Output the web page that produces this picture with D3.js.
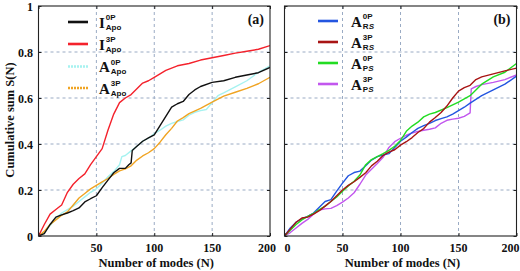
<!DOCTYPE html>
<html><head><meta charset="utf-8">
<script src="https://cdn.jsdelivr.net/npm/d3@7"></script>
<style>body{margin:0;background:#fff}svg{display:block}</style>
</head><body><svg id="c" width="520" height="271"></svg>
<script>
// ---------- data ----------
const xTicks = [0, 50, 100, 150, 200];
const xTickLabelsA = ["", "50", "100", "150", "200"];
const xTickLabelsB = ["0", "50", "100", "150", "200"];
const yTicks = [0, 0.2, 0.4, 0.6, 0.8, 1];
const yTickLabels = ["0", "0.2", "0.4", "0.6", "0.8", "1"];

// panel (a) series: [N, S(N)]
const I0P_Apo = [[0,0],[5,0.01],[10,0.05],[15,0.082],[20,0.092],[25,0.1],[30,0.11],[35,0.122],[40,0.148],[45,0.162],[50,0.175],[55,0.21],[60,0.243],[65,0.275],[70,0.294],[75,0.294],[78,0.31],[80,0.318],[81,0.372],[85,0.39],[90,0.412],[95,0.427],[100,0.44],[105,0.48],[110,0.52],[115,0.56],[120,0.575],[125,0.585],[130,0.615],[135,0.635],[140,0.65],[150,0.668],[160,0.675],[170,0.69],[180,0.70],[190,0.71],[200,0.733]];
const I3P_Apo = [[0,0],[5,0.05],[10,0.095],[15,0.115],[20,0.135],[25,0.19],[30,0.225],[35,0.25],[40,0.27],[45,0.31],[50,0.345],[55,0.38],[60,0.46],[65,0.53],[70,0.58],[75,0.6],[80,0.615],[85,0.64],[90,0.665],[95,0.675],[100,0.69],[110,0.72],[120,0.74],[130,0.75],[140,0.765],[150,0.775],[160,0.785],[170,0.795],[180,0.803],[190,0.812],[200,0.828]];
const A0P_Apo = [[0,0],[5,0.015],[10,0.045],[15,0.075],[20,0.1],[25,0.115],[30,0.13],[35,0.15],[40,0.17],[45,0.19],[50,0.205],[55,0.23],[60,0.258],[65,0.28],[70,0.31],[72,0.345],[75,0.35],[80,0.37],[85,0.39],[90,0.412],[95,0.425],[100,0.445],[105,0.46],[110,0.478],[115,0.49],[120,0.498],[125,0.505],[130,0.525],[135,0.538],[140,0.545],[145,0.55],[150,0.58],[155,0.61],[160,0.622],[170,0.648],[180,0.675],[190,0.712],[200,0.74]];
const A3P_Apo = [[0,0],[5,0.02],[10,0.05],[15,0.07],[20,0.09],[25,0.105],[30,0.135],[35,0.165],[40,0.185],[45,0.205],[50,0.22],[55,0.235],[60,0.25],[65,0.268],[70,0.283],[75,0.292],[80,0.305],[85,0.33],[90,0.348],[95,0.362],[100,0.38],[105,0.408],[110,0.44],[115,0.468],[120,0.5],[125,0.515],[130,0.532],[140,0.555],[150,0.582],[160,0.608],[170,0.625],[180,0.642],[190,0.662],[200,0.69]];

// panel (b) series
const A0P_RS = [[0,0],[5,0.035],[10,0.06],[15,0.075],[20,0.085],[25,0.1],[30,0.125],[35,0.15],[40,0.158],[45,0.195],[50,0.23],[55,0.262],[60,0.276],[65,0.282],[70,0.305],[75,0.33],[80,0.345],[85,0.352],[90,0.358],[95,0.385],[100,0.412],[105,0.43],[110,0.45],[115,0.468],[120,0.48],[125,0.49],[130,0.502],[135,0.51],[140,0.518],[145,0.53],[150,0.545],[155,0.56],[160,0.578],[170,0.61],[180,0.635],[190,0.66],[200,0.695]];
const A3P_RS = [[0,0],[5,0.03],[10,0.06],[15,0.078],[20,0.082],[25,0.095],[30,0.11],[35,0.13],[40,0.15],[45,0.175],[50,0.2],[55,0.22],[60,0.236],[65,0.255],[70,0.275],[75,0.305],[80,0.325],[85,0.35],[90,0.365],[95,0.375],[100,0.395],[105,0.41],[110,0.428],[115,0.45],[120,0.467],[125,0.495],[130,0.515],[135,0.537],[140,0.565],[145,0.6],[150,0.63],[155,0.645],[160,0.655],[165,0.68],[170,0.692],[180,0.705],[190,0.718],[200,0.73]];
const A0P_PS = [[0,0],[5,0.025],[10,0.05],[15,0.07],[20,0.085],[25,0.098],[30,0.115],[35,0.13],[40,0.15],[45,0.17],[50,0.195],[55,0.218],[60,0.238],[65,0.265],[70,0.31],[75,0.332],[80,0.345],[85,0.358],[90,0.372],[95,0.39],[100,0.415],[105,0.455],[110,0.478],[115,0.495],[120,0.518],[125,0.53],[130,0.537],[140,0.558],[150,0.582],[160,0.61],[165,0.635],[170,0.66],[180,0.692],[190,0.712],[200,0.75]];
const A3P_PS = [[0,0],[5,0.015],[10,0.035],[15,0.055],[20,0.072],[25,0.095],[30,0.113],[35,0.118],[40,0.12],[45,0.132],[50,0.147],[55,0.165],[60,0.188],[65,0.225],[70,0.265],[75,0.29],[80,0.315],[85,0.342],[90,0.385],[95,0.41],[100,0.425],[105,0.438],[110,0.448],[115,0.455],[120,0.46],[125,0.464],[130,0.47],[135,0.49],[140,0.503],[145,0.508],[150,0.512],[155,0.52],[160,0.535],[161,0.64],[165,0.65],[170,0.658],[180,0.668],[190,0.68],[200,0.70]];

const seriesA = [
  {main:"I", sup:"0P", sub:["Apo"], data:I0P_Apo, color:"#111111", dash:null},
  {main:"I", sup:"3P", sub:["Apo"], data:I3P_Apo, color:"#f4222c", dash:null},
  {main:"A", sup:"0P", sub:["Apo"], data:A0P_Apo, color:"#a6f2f0", dash:"2,1"},
  {main:"A", sup:"3P", sub:["Apo"], data:A3P_Apo, color:"#f0a423", dash:"2,1"}
];
const seriesB = [
  {main:"A", sup:"0P", sub:["R","S"], data:A0P_RS, color:"#2456e0", dash:null},
  {main:"A", sup:"3P", sub:["R","S"], data:A3P_RS, color:"#a81414", dash:null},
  {main:"A", sup:"0P", sub:["P","S"], data:A0P_PS, color:"#22dc22", dash:null},
  {main:"A", sup:"3P", sub:["P","S"], data:A3P_PS, color:"#c257ee", dash:null}
];
const drawOrderA = [2, 3, 0, 1];
const drawOrderB = [3, 0, 2, 1];

// ---------- drawing ----------
const svg = d3.select("#c");
const SERIF = "'Liberation Serif','DejaVu Serif',serif";
const SANS = "'Liberation Sans','DejaVu Sans',sans-serif";
const y = d3.scaleLinear().domain([0, 1]).range([236, 6]);

function panel(id, xr, series, order, xLabels, showY, legX, legTextX, tag, labelShift) {
  const x = d3.scaleLinear().domain([0, 200]).range(xr);
  const g = svg.append("g");
  const [x0, x1] = xr, y0 = y(0), y1 = y(1);
  // grid
  g.selectAll(".gx").data(xTicks.filter(t => t > 0 && t < 200)).join("line")
    .attr("x1", d => x(d)).attr("x2", d => x(d)).attr("y1", y1).attr("y2", y0)
    .attr("stroke", "#9aabc4").attr("stroke-width", 1).attr("stroke-dasharray", "3,3");
  g.selectAll(".gy").data(yTicks.filter(t => t > 0 && t < 1)).join("line")
    .attr("x1", x0).attr("x2", x1).attr("y1", d => y(d)).attr("y2", d => y(d))
    .attr("stroke", "#9aabc4").attr("stroke-width", 1).attr("stroke-dasharray", "3,3");
  // clip
  svg.append("clipPath").attr("id", "clip" + id).append("rect")
    .attr("x", x0).attr("y", y1).attr("width", x1 - x0).attr("height", y0 - y1);
  const line = d3.line().x(d => x(d[0])).y(d => y(d[1]));
  const lg = g.append("g").attr("clip-path", `url(#clip${id})`);
  order.forEach(i => {
    lg.append("path").attr("d", line(series[i].data)).attr("fill", "none")
      .attr("stroke", series[i].color).attr("stroke-width", 1.4).attr("stroke-linejoin", "round");
  });
  // frame
  g.append("rect").attr("x", x0).attr("y", y1).attr("width", x1 - x0).attr("height", y0 - y1)
    .attr("fill", "none").attr("stroke", "#222").attr("stroke-width", 1.1);
  // ticks inward
  const ax = g.append("g").attr("transform", `translate(0,${y0 - 3})`)
    .call(d3.axisBottom(x).tickValues(xTicks).tickSize(3).tickFormat(""));
  ax.selectAll("path").remove();
  const ax2 = g.append("g").attr("transform", `translate(0,${y1})`)
    .call(d3.axisBottom(x).tickValues(xTicks).tickSize(3).tickFormat(""));
  ax2.selectAll("path").remove();
  const ay = g.append("g").attr("transform", `translate(${x0},0)`)
    .call(d3.axisRight(y).tickValues(yTicks).tickSize(3).tickFormat(""));
  ay.selectAll("path").remove();
  const ay2 = g.append("g").attr("transform", `translate(${x1 - 3},0)`)
    .call(d3.axisRight(y).tickValues(yTicks).tickSize(3).tickFormat(""));
  ay2.selectAll("path").remove();
  g.selectAll(".tick line").attr("stroke", "#222");
  // x tick labels
  g.selectAll(".xl").data(xTicks).join("text")
    .attr("x", (d, i) => x(d) + labelShift[i]).attr("y", 252)
    .attr("text-anchor", "middle").attr("font-family", SERIF).attr("font-weight", "bold")
    .attr("font-size", 12).attr("fill", "#111").text((d, i) => xLabels[i]);
  // x title
  g.append("text").attr("x", (x0 + x1) / 2 + 2).attr("y", 267).attr("text-anchor", "middle")
    .attr("font-family", SERIF).attr("font-weight", "bold").attr("font-size", 12.5).attr("fill", "#111")
    .text("Number of modes (N)");
  if (showY) {
    g.selectAll(".yl").data(yTicks).join("text")
      .attr("x", 33).attr("y", d => y(d) + 4.5).attr("text-anchor", "end")
      .attr("font-family", SERIF).attr("font-weight", "bold").attr("font-size", 12).attr("fill", "#111")
      .text((d, i) => yTickLabels[i]);
  }
  // panel tag
  g.append("text").attr("x", x1 - 6).attr("y", 24).attr("text-anchor", "end")
    .attr("font-family", SERIF).attr("font-weight", "bold").attr("font-size", 14).attr("fill", "#111").text(tag);
  // legend
  const rowY = id === "a" ? [22, 44, 66.5, 88] : [21, 42, 63, 84];
  series.forEach((s, i) => {
    const ry = rowY[i];
    g.append("line").attr("x1", legX[0]).attr("x2", legX[1]).attr("y1", ry).attr("y2", ry)
      .attr("stroke", s.color).attr("stroke-width", 2.6).attr("stroke-dasharray", s.dash);
    const m = g.append("text").attr("x", legTextX).attr("y", ry + 5.5)
      .attr("font-family", SERIF).attr("font-weight", "bold").attr("font-size", 15).attr("fill", "#111").text(s.main);
    const w = m.node().getComputedTextLength();
    g.append("text").attr("x", legTextX + w + 1).attr("y", ry - 2)
      .attr("font-family", SANS).attr("font-weight", "bold").attr("font-size", 8).attr("fill", "#111").text(s.sup);
    const sb = g.append("text").attr("x", legTextX + w + 1).attr("y", ry + 7.5)
      .attr("font-family", SANS).attr("font-weight", "bold").attr("font-size", 8).attr("fill", "#111");
    sb.append("tspan").text(s.sub[0]);
    if (s.sub[1]) sb.append("tspan").attr("font-style", "italic").text(s.sub[1]);
  });
}

panel("a", [38.5, 270], seriesA, drawOrderA, xTickLabelsA, true, [68, 88], 99, "(a)", [0, 0, 0, 0, -3]);
panel("b", [284.5, 516.5], seriesB, drawOrderB, xTickLabelsB, false, [318, 338], 351, "(b)", [3, 0, 0, 0, -6]);

// y title
svg.append("text").attr("transform", "translate(14,120) rotate(-90)").attr("text-anchor", "middle")
  .attr("font-family", SERIF).attr("font-weight", "bold").attr("font-size", 12.5).attr("fill", "#111")
  .text("Cumulative sum S(N)");
</script></body></html>
